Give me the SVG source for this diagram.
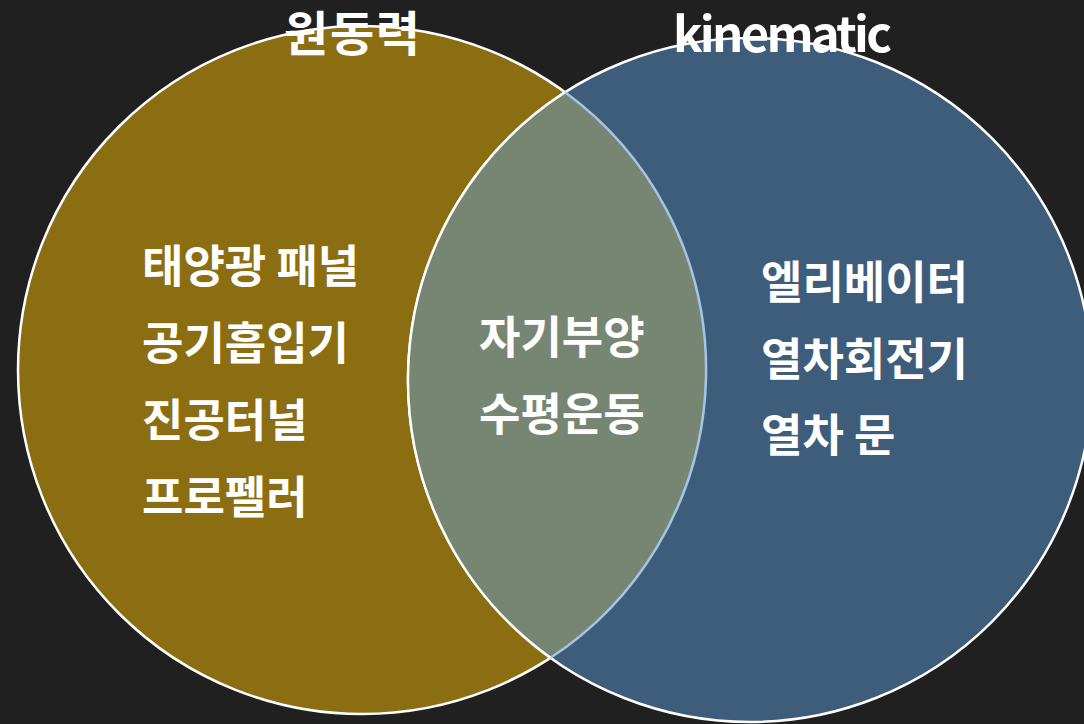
<svg xmlns="http://www.w3.org/2000/svg" width="1084" height="724" viewBox="0 0 1084 724">
<style>
.t{font-family:"Noto Sans CJK KR","Noto Sans",sans-serif;font-weight:bold;fill:#ffffff;}
.b{font-size:45px;}
</style>
<rect x="0" y="0" width="1084" height="724" fill="#202020"/>
<g id="set-left">
<circle cx="362" cy="370" r="344" fill="#8C6E12" stroke="#ffffff" stroke-width="2.5"/>
</g>
<g id="set-right">
<circle cx="750" cy="380" r="342" fill="#3E5D7B" stroke="#ffffff" stroke-width="2.5"/>
</g>
<g id="overlap">
<path d="M565.1 92.3 A344 344 0 0 1 550.5 657.8 A342 342 0 0 1 565.1 92.3 Z" fill="#778672"/>
<path d="M565.1 92.3 A344 344 0 0 1 550.5 657.8" fill="none" stroke="#A6C4E4" stroke-width="2.5"/>
<path d="M550.5 657.8 A342 342 0 0 1 565.1 92.3" fill="none" stroke="#ffffff" stroke-width="2.5"/>
</g>
<g id="title-left">
<text class="t" x="284" y="51" font-size="48" textLength="136">원동력</text>
</g>
<g id="title-right">
<text class="t" x="673" y="52" font-size="49" textLength="219">kinematic</text>
</g>
<g id="left-items">
<text class="t b" x="142" y="283">태양광 패널</text>
<text class="t b" x="142" y="360">공기흡입기</text>
<text class="t b" x="142" y="437">진공터널</text>
<text class="t b" x="142" y="514">프로펠러</text>
</g>
<g id="center-items">
<text class="t b" x="479" y="354">자기부양</text>
<text class="t b" x="479" y="431">수평운동</text>
</g>
<g id="right-items">
<text class="t b" x="761" y="299">엘리베이터</text>
<text class="t b" x="761" y="376">열차회전기</text>
<text class="t b" x="761" y="452">열차 문</text>
</g>
</svg>
